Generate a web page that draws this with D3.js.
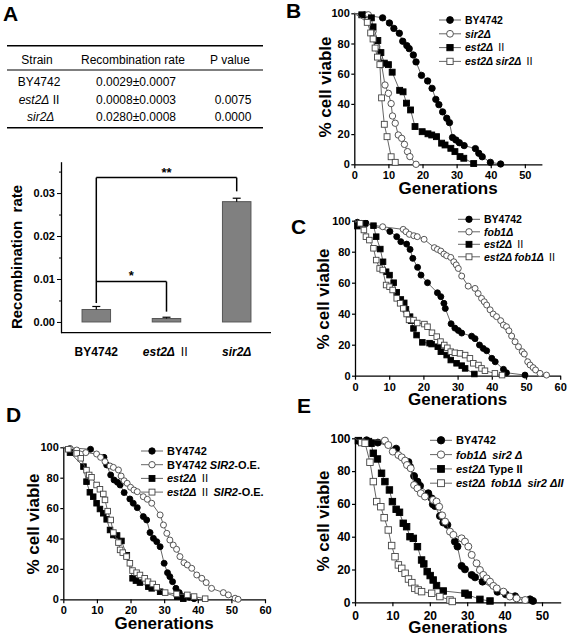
<!DOCTYPE html>
<html><head><meta charset="utf-8">
<script src="https://cdn.jsdelivr.net/npm/d3@7"></script>
<style>
body{margin:0;background:#fff}
svg{display:block}
text{font-family:"Liberation Sans",Arial,Helvetica,sans-serif;white-space:pre}
</style>
</head><body>
<svg id="c" width="572" height="638"></svg>
<script>
// ---------------- Panel A data ----------------
const tableHeader = ["Strain", "Recombination rate", "P value"];
const tableStrains = ["BY4742", "<i>est2Δ</i> II", " <i>sir2Δ</i>"];
const tableRates = ["0.0029±0.0007", "0.0008±0.0003", "0.0280±0.0008"];
const tablePvalues = ["", "0.0075", "0.0000"];

const barStrains = ["BY4742", "<i>est2Δ</i> Ⅱ", "<i>sir2Δ</i>"];
const barRates = [0.0029, 0.0008, 0.0280];
const barErrors = [0.0007, 0.0003, 0.0008];
const barYTicks = [0, 0.01, 0.02, 0.03];
const barYMinorTicks = [0.005, 0.015, 0.025, 0.035];

// ---------------- Survival data [generation, % viable] ----------------
const B_BY4742 = [[0,100],[3.1,98.9],[8.3,97],[10.3,93.6],[11.6,90],[13.2,86.8],[14.2,81.5],[15.4,78.6],[16.1,76.6],[17.3,72.4],[18.1,67.8],[19.7,58.9],[21.5,55.2],[22.8,50.3],[23.9,43],[24.8,39.5],[25.9,34.7],[27.1,30.5],[27.9,27.6],[28.8,17.7],[29.8,16.1],[30.8,14.3],[32.2,12.4],[35.5,10.4],[36.5,7.3],[37.5,5],[39.9,1.3],[42.9,0.2]];
const B_sir2 = [[0,100],[4.1,99],[5.5,88],[6.6,78],[7.3,71],[8,66],[9,52.5],[10,47],[10.8,40.2],[11.2,32],[12,27.2],[12.9,19.4],[13.9,17.2],[14.7,13.2],[15.6,8.4],[16.3,5.1],[18.1,0]];
const B_est2 = [[0,100],[2.2,99],[5,97],[5.5,91],[6.9,82],[7.8,74],[8.8,67],[10,66],[11.1,61],[13.3,49],[14.3,48],[15.3,40.5],[16.5,36],[17.8,25],[19.9,21.6],[21.6,20.2],[22.7,19.4],[24.1,18.3],[25.6,14],[26.6,12.8],[28.3,10.6],[29.5,8.4],[31,5.1],[32.1,4],[35,0.5]];
const B_est2sir2 = [[0,100],[3.8,94],[4.8,87],[5.5,83],[6.1,77],[6.8,71],[7.5,66],[8,44],[8.8,26.5],[9.6,18.3],[10.8,5],[12,1.3]];

const C_BY4742 = [[0,100],[0.7,99],[3.2,98.3],[10.2,93.1],[12.2,89.7],[13.4,86.5],[15.1,84.9],[16.1,81.5],[16.9,75.7],[18.3,69.9],[19.3,64.9],[21.2,60],[24.1,53.5],[25.1,51],[26,46.7],[26.4,43.4],[28.1,33.5],[29.2,30.7],[30.2,29.2],[31.2,27.5],[34.1,25.5],[35.1,23.9],[36.4,19.8],[37.5,17.6],[38.5,16.1],[40,11.2],[41,9],[43.4,4.1],[44.3,1.9],[49.7,0.4]];
const C_fob1 = [[0,100],[1.8,98.3],[8.1,96.1],[14.1,94.4],[14.9,92.9],[15.9,91.2],[17.2,90.3],[18.2,89.7],[20.2,88],[23.2,82.6],[24.1,81.5],[25.1,80.4],[26,78.5],[26.8,77.4],[28,76.3],[28.9,73.5],[29.6,71.5],[30.2,69.2],[31.2,64.3],[33.1,57.8],[35.1,56.3],[36,53],[37,49.9],[37.8,47.7],[38.5,45.6],[39.5,42.5],[40.4,39.8],[41.4,38.1],[42.6,35.5],[43.4,32.7],[44.3,31.6],[45,29],[45.8,25.6],[46.8,21.9],[47.8,18.7],[48.9,15.5],[49.5,14],[50.5,9],[51.2,6.9],[52.1,5.2],[52.8,3.7],[54.1,1.5],[56,0.4]];
const C_est2 = [[0,100],[0.7,96.5],[2.9,98.3],[5.4,96.8],[6.2,89.7],[7.4,81.7],[8.2,73.5],[9.1,67.1],[10.1,64.9],[11.3,60],[12.2,53.8],[13.4,49.2],[14.4,47],[14.9,42.8],[16.1,38.1],[16.4,35.5],[17.1,30.5],[18,26.2],[19.7,21.5],[21.8,21],[22.4,20.4],[24.2,18.7],[25.1,15.5],[26.8,13.3],[28,10.1],[29.7,8],[31.2,6.5],[32.2,4.7],[34.9,1.1]];
const C_est2fob1 = [[0,100],[1.5,98.3],[2.6,94],[3.2,89.7],[4.2,87.5],[5.4,82.2],[6.2,74.6],[7.2,69.2],[8.1,68.2],[9.1,58.5],[10.1,57.4],[11,55.3],[12.2,49.9],[13.2,46.7],[14.1,43.4],[15.1,39.8],[15.8,36],[17.1,35.9],[18.2,34],[20.3,33.3],[21.2,31.6],[22.5,27.7],[23.9,25.2],[25,22],[26.1,19.8],[27,18],[28,15.5],[29.2,14.8],[30.7,14.4],[32.2,13.3],[33.6,11.2],[34.6,8],[36.1,6.9],[37,4.7],[38,3.2],[40.9,1.5],[43,0.4]];

const D_BY4742 = [[0,100],[8.1,98.7],[12.1,93.4],[12.9,88.4],[14.1,81.8],[15.1,78.5],[16.1,77],[16.9,75.2],[18.1,70.2],[19.8,66],[20.8,63.2],[22,60.3],[23.8,54.4],[24.8,52.2],[25.8,43.9],[26.8,40.1],[27.8,37.9],[28.8,34.6],[30,23.7],[31,17.5],[31.7,14.9],[32.5,11.6],[33.5,7.2],[34.5,4.4],[35.5,1.8],[37.5,1.3],[38.9,0.4]];
const D_BY4742OE = [[0,100],[2,99.3],[4,98.2],[6.7,96.5],[9.9,95.6],[11.1,93.4],[12.4,90.6],[13.9,87.7],[14.9,86.8],[16.4,85.1],[17.2,81.1],[18.1,78],[19,76.3],[20,73.7],[21,71.9],[22,70.8],[23.8,67.5],[25,65.8],[26.3,63.2],[28.8,55.5],[29.8,48.9],[30.8,43.4],[31.7,39],[32.7,35.7],[33.7,32.9],[34.7,28.1],[35.9,24.1],[36.9,22.6],[38.2,20.4],[39.7,16],[41.2,13.8],[42.5,11],[44.1,7.2],[47.6,4.4],[49.1,2.9],[51.1,0.7],[52,0]];
const D_est2 = [[0,100],[2,96.5],[6,87.3],[6.9,77.4],[7.9,70.4],[8.9,67.5],[9.9,63.2],[10.9,59.4],[11.9,56.6],[12.9,52.6],[13.9,45.6],[14.9,42.3],[16,42],[17.3,38.4],[18.9,29],[20.6,13.8],[21.6,12.3],[22.8,11],[25.3,8.3],[26.3,7.2],[28.8,5],[33.9,1.8],[35.7,0.4]];
const D_est2OE = [[0,100],[1.5,98.7],[4,96],[5.2,92.8],[6.9,85],[7.7,81.8],[8.4,80.3],[9.9,75.2],[10.9,72.4],[11.9,69.3],[12.4,65.4],[13.2,58],[14.1,52.2],[14.9,43.9],[16.4,37.3],[16.9,32.5],[17.7,30.7],[18.8,28.1],[19.8,23.7],[20.6,18.9],[21.8,17.5],[22.8,16],[24.2,13.8],[25.2,11.6],[26.6,10.1],[27.8,7.9],[30.3,4.4],[33.7,3.5],[36.9,2.9],[38.9,1.8],[42.2,0.4]];

const E_BY4742 = [[0,100],[1.1,98.4],[3.1,98.8],[6.1,97.4],[11,93.7],[14.3,85.5],[14.7,82.7],[15.8,77],[16.7,73.6],[17.4,71],[19.6,66.5],[20.5,63.4],[20.8,59.8],[21.4,58.7],[22.7,52.6],[23.6,48.6],[24.7,47.2],[26.7,37],[27.4,34],[28.5,22.2],[29.4,20.1],[31.2,16.7],[32.1,15.2],[34.1,12.6],[38.1,6.4],[40.3,4.9],[42.8,3.7],[46.8,1.8],[47.6,0.8]];
const E_fob1sir2 = [[0,100],[8,98.6],[8.9,95.9],[10.1,91.9],[11.6,89.8],[12.5,88.4],[13.4,86.4],[13.9,83.7],[14.9,81.7],[15.8,71.5],[16.7,69.5],[17.6,66.5],[18.7,64.5],[20.9,62.4],[21.8,61.4],[22.5,58.3],[23.3,53],[24.1,49.2],[25.4,43.1],[26.3,41.1],[28.5,39],[29.4,37],[30.3,34],[31.2,28.9],[32.5,23.8],[33.4,19.7],[34.3,16.7],[35.2,14.6],[36.1,12.6],[37,10],[37.9,8.5],[39.7,6.5],[41.4,3.5],[43.2,2.4],[45.5,1.4]];
const E_est2 = [[0,100],[0.9,98.6],[3.6,98],[4.3,97],[4.9,90.9],[6,87.4],[7.1,78.7],[8,73.6],[9.2,68.5],[10,61.4],[11,56.7],[11.9,54.9],[12.9,48.2],[13.8,46.1],[14.7,40],[15.6,39],[16.7,33.9],[17.8,25.8],[18.4,23.4],[19.3,18.7],[20.1,16.3],[20.9,13.6],[21.8,10.2],[23.6,6.9],[29.4,5.5],[30.3,4.5],[33.4,1.8],[36.1,0.8]];
const E_est2fob1sir2 = [[0,100],[1.8,97.4],[2.7,97],[4,85.4],[4.9,73.6],[5.8,61.4],[6.9,58.3],[7.8,51.6],[8.9,44.1],[9.8,34.6],[10.7,27.8],[11.6,22.8],[12.5,20.7],[13.4,17.7],[14.3,14.2],[15.2,12],[16,8.5],[16.9,7.5],[17.8,6.5],[20.5,5.5],[22.7,3.5],[25.4,1.4],[26,0.5]];

const B_labels = ["BY4742", "<i>sir2Δ</i>", "<i>est2Δ</i> Ⅱ", "<i>est2Δ sir2Δ</i> Ⅱ"];
const C_labels = ["BY4742", "<i>fob1Δ</i>", "<i>est2Δ</i> Ⅱ", "<i>est2Δ fob1Δ</i> Ⅱ"];
const D_labels = ["BY4742", "BY4742 <i>SIR2</i>-O.E.", "<i>est2Δ</i> Ⅱ", "<i>est2Δ</i> Ⅱ <i>SIR2</i>-O.E."];
const E_labels = ["BY4742", "<i>fob1Δ  sir2 Δ</i>", "<i>est2Δ</i> Type II", "<i>est2Δ  fob1Δ  sir2 ΔII</i>"];

const yTicks = [0, 20, 40, 60, 80, 100];
const xTicks50 = [0, 10, 20, 30, 40, 50];
const xTicks60 = [0, 10, 20, 30, 40, 50, 60];

// ---------------- helpers ----------------
const svg = d3.select("#c");
const FONT = '"Liberation Sans",Arial,Helvetica,sans-serif';

function rich(sel, str) {
  str.split(/(<i>.*?<\/i>)/).filter(s => s.length).forEach(p => {
    const it = p.startsWith("<i>");
    const t = it ? p.slice(3, -4) : p;
    t.split(/(Ⅱ)/).filter(s => s.length).forEach(q => {
      const ts = sel.append("tspan").text(q);
      if (it) ts.attr("font-style", "italic");
      if (q === "Ⅱ") ts.attr("font-family", "'Noto Sans CJK SC','DejaVu Serif',serif").attr("font-weight", "normal");
    });
  });
}

function panelLetter(t, x, y) {
  svg.append("text").attr("x", x).attr("y", y).attr("font-size", 21).attr("font-weight", "bold").text(t);
}

// ---------------- Panel A: table ----------------
panelLetter("A", 3, 21);
const tbl = svg.append("g");
const colX = [37, 133, 230];
const tLine = (y, w) => tbl.append("line").attr("x1", 7).attr("x2", 263).attr("y1", y).attr("y2", y).attr("stroke", "#000").attr("stroke-width", w);
tLine(45.7, 1.6); tLine(70, 1.2); tLine(127.7, 1.6);
tableHeader.forEach((h, i) => tbl.append("text").attr("x", colX[i]).attr("y", 63.5).attr("text-anchor", "middle").attr("font-size", 12).text(h));
const rowY = [86.3, 103.8, 121.3];
tableStrains.forEach((s, i) => { const t = tbl.append("text").attr("x", 39).attr("y", rowY[i]).attr("text-anchor", "middle").attr("font-size", 12); rich(t, s); });
tableRates.forEach((s, i) => tbl.append("text").attr("x", 136).attr("y", rowY[i]).attr("text-anchor", "middle").attr("font-size", 12).text(s));
tablePvalues.forEach((s, i) => tbl.append("text").attr("x", 233).attr("y", rowY[i]).attr("text-anchor", "middle").attr("font-size", 12).text(s));

// ---------------- Panel A: bar chart ----------------
const bx = d3.scalePoint().domain(barStrains).range([96.3, 236.7]);
const by = d3.scaleLinear().domain([-0.0025, 0.0373]).range([332.7, 161.7]);
const bw = 28.5;
const bar = svg.append("g");
bar.selectAll("rect.bar").data(barStrains).join("rect")
  .attr("x", d => bx(d) - bw / 2).attr("width", bw)
  .attr("y", (d, i) => by(barRates[i])).attr("height", (d, i) => by(0) - by(barRates[i]))
  .attr("fill", "#808080").attr("stroke", "#555").attr("stroke-width", 1);
barStrains.forEach((d, i) => {
  const top = by(barRates[i] + barErrors[i]);
  bar.append("line").attr("x1", bx(d)).attr("x2", bx(d)).attr("y1", by(barRates[i])).attr("y2", top).attr("stroke", "#000").attr("stroke-width", 1.2);
  bar.append("line").attr("x1", bx(d) - 4).attr("x2", bx(d) + 4).attr("y1", top).attr("y2", top).attr("stroke", "#000").attr("stroke-width", 1.2);
});
const byAxis = bar.append("g").attr("transform", "translate(61,0)")
  .call(d3.axisLeft(by).tickValues(barYTicks).tickFormat(d3.format(".2f")).tickSize(4).tickSizeOuter(0).tickPadding(2));
byAxis.selectAll("text").attr("font-size", 11).attr("font-weight", "bold").attr("font-family", FONT);
byAxis.select(".domain").attr("stroke-width", 1.3);
bar.append("g").attr("transform", "translate(61,0)")
  .call(d3.axisLeft(by).tickValues(barYMinorTicks).tickFormat("").tickSize(2).tickSizeOuter(0))
  .select(".domain").remove();
const bxAxis = bar.append("g").attr("transform", `translate(0,${by(-0.0025)})`);
bxAxis.append("line").attr("x1", 61).attr("x2", 271).attr("stroke", "#000").attr("stroke-width", 1.3);
barStrains.forEach(d => {
  const t = bar.append("text").attr("x", bx(d)).attr("y", 356).attr("text-anchor", "middle").attr("font-size", 12).attr("font-weight", "bold");
  rich(t, d);
});
bar.append("text").attr("transform", "translate(22,257) rotate(-90)").attr("text-anchor", "middle")
  .attr("font-size", 15).attr("font-weight", "bold").text("Recombination  rate");
// significance brackets
const bk = (x1, y1, x2, y2) => bar.append("line").attr("x1", x1).attr("y1", y1).attr("x2", x2).attr("y2", y2).attr("stroke", "#000").attr("stroke-width", 1.5);
const c0 = bx(barStrains[0]), c1 = bx(barStrains[1]), c2 = bx(barStrains[2]);
bk(c0, by(0.0336), c2, by(0.0336));
bk(c0, by(0.0336), c0, by(0.0044));
bk(c2, by(0.0336), c2, by(0.0304));
bk(c0, by(0.0094), c1, by(0.0094));
bk(c1, by(0.0094), c1, by(0.0024));
bar.append("text").attr("x", (c0 + c2) / 2).attr("y", by(0.0336) - 1).attr("text-anchor", "middle").attr("font-size", 13).attr("font-weight", "bold").text("**");
bar.append("text").attr("x", (c0 + c1) / 2).attr("y", by(0.0094) - 1.5).attr("text-anchor", "middle").attr("font-size", 13).attr("font-weight", "bold").text("*");

// ---------------- Survival panels ----------------
const markerKinds = [{shape: "circle", fill: "#000"}, {shape: "circle", fill: "#fff"}, {shape: "square", fill: "#000"}, {shape: "square", fill: "#fff"}];

function marker(g, kind, x, y, r) {
  if (kind.shape === "circle") {
    g.append("circle").attr("cx", x).attr("cy", y).attr("r", r)
      .attr("fill", kind.fill).attr("stroke", kind.fill === "#000" ? "#000" : "#444").attr("stroke-width", 0.9);
  } else {
    const s = r * 1.85;
    g.append("rect").attr("x", x - s / 2).attr("y", y - s / 2).attr("width", s).attr("height", s)
      .attr("fill", kind.fill).attr("stroke", kind.fill === "#000" ? "#000" : "#444").attr("stroke-width", 0.9);
  }
}

function survival(cfg) {
  const g = svg.append("g");
  const x = d3.scaleLinear().domain([0, cfg.xmax]).range([cfg.xl, cfg.xr]);
  const y = d3.scaleLinear().domain([0, 100]).range([cfg.yb, cfg.yt]);
  const xa = g.append("g").attr("transform", `translate(0,${cfg.yb})`)
    .call(d3.axisBottom(x).tickValues(cfg.xticks).tickSize(4).tickSizeOuter(0).tickPadding(cfg.xpad));
  const ya = g.append("g").attr("transform", `translate(${cfg.xl},0)`)
    .call(d3.axisLeft(y).tickValues(yTicks).tickSize(3).tickSizeOuter(0).tickPadding(1.5));
  [xa, ya].forEach(a => {
    a.selectAll("text").attr("font-size", cfg.tickFs).attr("font-weight", "bold").attr("font-family", FONT);
    a.select(".domain").attr("stroke-width", 1.3);
    a.selectAll(".tick line").attr("stroke-width", 1.2);
  });
  g.append("text").attr("x", (cfg.xl + cfg.xr) / 2).attr("y", cfg.yb + cfg.titleDy).attr("text-anchor", "middle")
    .attr("font-size", 17).attr("font-weight", "bold").text("Generations");
  g.append("text").attr("transform", `translate(${cfg.ylabX},${cfg.ylabY}) rotate(-90)`).attr("text-anchor", "middle")
    .attr("font-size", 17).attr("font-weight", "bold").text("% cell viable");
  const line = d3.line().x(d => x(d[0])).y(d => y(d[1]));
  cfg.series.forEach((s, i) => {
    const sg = g.append("g");
    sg.append("path").attr("d", line(s)).attr("fill", "none").attr("stroke", "#555").attr("stroke-width", 0.9);
    s.forEach(d => { if (d[0] > 0) marker(sg, markerKinds[i], x(d[0]), y(d[1]), cfg.r); });
  });
  // legend
  cfg.labels.forEach((lab, i) => {
    const ly = cfg.leg.y + i * cfg.leg.dy;
    g.append("line").attr("x1", cfg.leg.x).attr("x2", cfg.leg.x + 22).attr("y1", ly).attr("y2", ly).attr("stroke", "#555").attr("stroke-width", 0.9);
    marker(g, markerKinds[i], cfg.leg.x + 11, ly, cfg.r + 0.2);
    const t = g.append("text").attr("x", cfg.leg.x + 26).attr("y", ly + cfg.leg.fs * 0.36)
      .attr("font-size", cfg.leg.fs).attr("font-weight", "bold");
    rich(t, lab);
  });
  panelLetter(cfg.letter, cfg.lx, cfg.ly);
}

survival({letter: "B", lx: 286, ly: 18, xmax: 55, xl: 354.3, xr: 541.9, yb: 164.3, yt: 13.3, xticks: xTicks50, xpad: 2.9, tickFs: 11,
  titleDy: 30, ylabX: 331, ylabY: 87, r: 3.2, series: [B_BY4742, B_sir2, B_est2, B_est2sir2], labels: B_labels,
  leg: {x: 439, y: 20, dy: 13.8, fs: 10.5}});
survival({letter: "C", lx: 291, ly: 234, xmax: 60, xl: 355, xr: 560.2, yb: 375.7, yt: 220.7, xticks: xTicks60, xpad: 3.2, tickFs: 11,
  titleDy: 29.3, ylabX: 329, ylabY: 299, r: 3, series: [C_BY4742, C_fob1, C_est2, C_est2fob1], labels: C_labels,
  leg: {x: 458, y: 219.3, dy: 12.5, fs: 10.5}});
survival({letter: "D", lx: 6, ly: 422, xmax: 60, xl: 63.3, xr: 265, yb: 599.3, yt: 447.3, xticks: xTicks60, xpad: 2.9, tickFs: 11,
  titleDy: 30, ylabX: 39, ylabY: 524, r: 3, series: [D_BY4742, D_BY4742OE, D_est2, D_est2OE], labels: D_labels,
  leg: {x: 141, y: 451, dy: 13.7, fs: 11}});
survival({letter: "E", lx: 297, ly: 413, xmax: 55, xl: 355, xr: 560.7, yb: 602.3, yt: 438.3, xticks: xTicks50, xpad: 5, tickFs: 12,
  titleDy: 31, ylabX: 329, ylabY: 521, r: 3.5, series: [E_BY4742, E_fob1sir2, E_est2, E_est2fob1sir2], labels: E_labels,
  leg: {x: 430, y: 440.3, dy: 14.3, fs: 11}});
</script>
</body></html>
